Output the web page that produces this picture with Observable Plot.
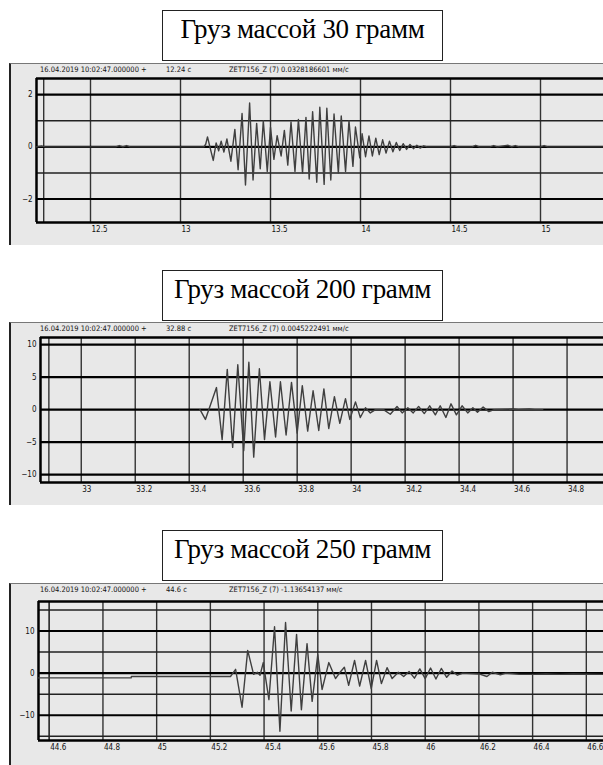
<!DOCTYPE html>
<html><head><meta charset="utf-8">
<script src="https://cdn.jsdelivr.net/npm/d3@7"></script>
<script src="https://cdn.jsdelivr.net/npm/@observablehq/plot@0.6"></script>
<style>
html,body{margin:0;padding:0;background:#fff;}
body{width:603px;height:765px;overflow:hidden;position:relative;}
.title{position:absolute;left:162px;width:281px;height:51px;border:1px solid #222;background:#fff;
  font-family:"Liberation Serif","Times New Roman",serif;font-size:27px;text-align:center;line-height:30px;padding-top:3px;box-sizing:border-box;z-index:3;color:#000;letter-spacing:-0.3px;}
.frame{position:absolute;left:9px;width:640px;background:#e8e8e8;border-left:2px solid #222;border-top:1px solid #777;box-sizing:border-box;}
.hdr{position:absolute;font-family:"DejaVu Sans Condensed","Liberation Sans Narrow",sans-serif;font-size:7.5px;color:#111;white-space:pre;z-index:2;}
.chart{position:absolute;left:0;z-index:1;}
</style>
</head><body>
<script>
// ---------- Panel 1: 30 g ----------
const title1 = "Груз массой 30 грамм";
const header1 = ["16.04.2019 10:02:47.000000 +", "12.24 с", "ZET7156_Z (7) 0.0328186601 мм/с"];
const cursor1 = 12.24;
const xDomain1 = [12.2, 15.35];
const yDomain1 = [-2.9, 2.62];
const xTicks1 = [12.5, 13, 13.5, 14, 14.5, 15];
const xTickLabels1 = ["12.5", "13", "13.5", "14", "14.5", "15"];
const yMajor1 = [-2, 0, 2];
const yMinor1 = [-1, 1];
const t1 = [12.2, 12.23, 12.25, 12.64, 12.66, 12.68, 12.70, 12.72, 13.13,
  13.140, 13.150, 13.165, 13.182, 13.198, 13.212, 13.226, 13.241, 13.258, 13.280,
  13.302, 13.320, 13.342, 13.361, 13.384, 13.403, 13.423, 13.443, 13.460, 13.482,
  13.500, 13.519, 13.537, 13.559, 13.577, 13.596, 13.614, 13.636, 13.655, 13.678,
  13.697, 13.715, 13.734, 13.757, 13.774, 13.798, 13.813, 13.835, 13.853, 13.877,
  13.893, 13.917, 13.936, 13.958, 13.972, 13.996, 14.009, 14.028, 14.047, 14.066,
  14.085, 14.104, 14.123, 14.142, 14.161, 14.180, 14.199, 14.218, 14.237, 14.256,
  14.275, 14.294, 14.313, 14.332, 14.351, 14.37, 14.5, 14.52, 14.54, 14.62, 14.64, 14.66,
  14.72, 14.74, 14.76, 14.82, 14.84, 14.86, 14.88, 15.0, 15.02, 15.04, 15.35];
const v1 = [0, 0.03, 0, 0, 0.05, 0, 0.05, 0, 0,
  0.1, 0.38, -0.05, -0.52, 0.15, -0.15, 0.22, -0.2, 0.3, -0.55,
  0.67, -0.88, 1.28, -1.46, 1.68, -1.27, 0.9, -0.84, 1.0, -0.94,
  0.75, -0.48, 0.43, -0.35, 0.63, -0.7, 0.95, -0.94, 1.05, -1.0,
  1.13, -1.23, 1.35, -1.36, 1.52, -1.44, 1.48, -1.27, 1.26, -1.0,
  1.18, -0.94, 1.0, -0.75, 0.76, -0.42, 0.5, -0.38, 0.42, -0.35,
  0.33, -0.3, 0.27, -0.24, 0.22, -0.19, 0.17, -0.14, 0.12, -0.1,
  0.09, -0.07, 0.06, -0.05, 0.04, 0, 0, 0.05, 0, 0, 0.06, 0,
  0, 0.05, 0, 0.06, 0, 0.05, 0, 0, 0.05, 0, 0];

// ---------- Panel 2: 200 g ----------
const title2 = "Груз массой 200 грамм";
const header2 = ["16.04.2019 10:02:47.000000 +", "32.88 с", "ZET7156_Z (7) 0.0045222491 мм/с"];
const cursor2 = 32.88;
const xDomain2 = [32.849, 34.935];
const yDomain2 = [-11.2, 11.1];
const xTicks2 = [33, 33.2, 33.4, 33.6, 33.8, 34, 34.2, 34.4, 34.6, 34.8];
const xTickLabels2 = ["33", "33.2", "33.4", "33.6", "33.8", "34", "34.2", "34.4", "34.6", "34.8"];
const yMajor2 = [-10, -5, 0, 5, 10];
const yMinor2 = [];
const t2 = [33.44, 33.460, 33.501, 33.522, 33.541, 33.561, 33.580, 33.602, 33.621, 33.639,
  33.660, 33.679, 33.699, 33.720, 33.738, 33.759, 33.779, 33.800, 33.819, 33.839,
  33.859, 33.880, 33.899, 33.917, 33.938, 33.958, 33.979, 33.995, 34.016, 34.034,
  34.053, 34.071, 34.09, 34.12, 34.145, 34.170, 34.189, 34.21, 34.230, 34.250,
  34.271, 34.291, 34.312, 34.330, 34.351, 34.370, 34.390, 34.411, 34.432, 34.451,
  34.468, 34.489, 34.51, 34.53, 34.6, 34.62, 34.66, 34.68, 34.71];
const v2 = [0, -1.5, 3.4, -4.6, 6.2, -5.8, 6.9, -6.3, 7.3, -7.3,
  6.3, -4.6, 4.3, -4.2, 4.3, -3.9, 4.2, -3.6, 3.7, -3.3,
  2.9, -3.2, 3.2, -2.9, 2.0, -2.1, 1.7, -1.5, 1.2, -1.2,
  0.3, -0.5, 0, 0, -0.7, 0.5, -0.5, 0.3, -0.5, 0.5,
  -0.6, 0.6, -0.8, 0.6, -1.2, 0.9, -0.8, 0.6, -0.5, 0.3,
  -0.4, 0.4, -0.3, 0, 0.1, 0, 0.1, 0, 0];

// ---------- Panel 3: 250 g ----------
const title3 = "Груз массой 250 грамм";
const header3 = ["16.04.2019 10:02:47.000000 +", "44.6 с", "ZET7156_Z (7) -1.13654137 мм/с"];
const cursor3 = 44.6;
const xDomain3 = [44.56, 46.664];
const yDomain3 = [-16, 17];
const xTicks3 = [44.6, 44.8, 45, 45.2, 45.4, 45.6, 45.8, 46, 46.2, 46.4, 46.6];
const xTickLabels3 = ["44.6", "44.8", "45", "45.2", "45.4", "45.6", "45.8", "46", "46.2", "46.4", "46.6"];
const yMajor3 = [-10, 0, 10];
const yMinor3 = [-15, -5, 5, 15];
const t3 = [44.56, 44.905, 44.906, 45.275,
  45.294, 45.318, 45.339, 45.361, 45.375, 45.385, 45.397, 45.418, 45.439, 45.459,
  45.480, 45.501, 45.521, 45.539, 45.560, 45.579, 45.600, 45.616, 45.641, 45.666,
  45.683, 45.699, 45.715, 45.737, 45.756, 45.778, 45.799, 45.819, 45.837, 45.858,
  45.877, 45.90, 45.92, 45.94, 45.96, 45.98, 46.00, 46.02, 46.04, 46.06,
  46.08, 46.10, 46.12, 46.14, 46.2, 46.23, 46.25, 46.28, 46.30, 46.35,
  46.40, 46.45, 46.5, 46.55, 46.664];
const v3 = [-1.14, -1.14, -0.8, -0.8,
  0.9, -8.1, 5.4, -0.3, 0.2, -0.5, 2.5, -6.3, 11, -13.8,
  12, -9, 9.2, -8.7, 7, -6.7, 4.4, -3.9, 2.5, -1.3,
  0.2, 1.4, -2.9, 3.0, -3.1, 3.0, -3.7, 3.0, -2.5, 1.3,
  -1.3, 0.2, -0.8, 0.4, -1.2, 1.0, -1.3, 1.2, -1.4, 1.1,
  -1.0, 0.5, -0.5, 0, -0.2, -0.8, 0.2, -0.4, 0, -0.3,
  -0.3, -0.2, -0.3, -0.2, -0.3];

const panels = [
  {title: title1, header: header1, cursor: cursor1, xd: xDomain1, yd: yDomain1, xt: xTicks1, xl: xTickLabels1, yM: yMajor1, ym: yMinor1, t: t1, v: v1,
   titleTop: 10, frameTop: 63, frameH: 182, plotTop: 78, plotBottom: 222, plotLeft: 36, hdrX: [40, 166, 229]},
  {title: title2, header: header2, cursor: cursor2, xd: xDomain2, yd: yDomain2, xt: xTicks2, xl: xTickLabels2, yM: yMajor2, ym: yMinor2, t: t2, v: v2,
   titleTop: 270, frameTop: 322, frameH: 183, plotTop: 337, plotBottom: 482, plotLeft: 40, hdrX: [40, 166, 229]},
  {title: title3, header: header3, cursor: cursor3, xd: xDomain3, yd: yDomain3, xt: xTicks3, xl: xTickLabels3, yM: yMajor3, ym: yMinor3, t: t3, v: v3,
   titleTop: 530, frameTop: 583, frameH: 190, plotTop: 601, plotBottom: 740, plotLeft: 38, hdrX: [40, 166, 229]}
];

const tickFont = '"DejaVu Sans Condensed","Liberation Sans Narrow",sans-serif';

for (const p of panels) {
  const frame = document.createElement("div");
  frame.className = "frame";
  frame.style.top = p.frameTop + "px";
  frame.style.height = p.frameH + "px";
  document.body.appendChild(frame);

  p.header.forEach((h, i) => {
    const d = document.createElement("div");
    d.className = "hdr";
    d.textContent = h;
    d.style.left = p.hdrX[i] + "px";
    d.style.top = (p.frameTop + 2) + "px";
    document.body.appendChild(d);
  });

  const data = p.t.map((t, i) => ({t, v: p.v[i]}));
  const H = p.frameH;
  const chart = Plot.plot({
    width: 603,
    height: H,
    marginLeft: p.plotLeft,
    marginRight: 0,
    marginTop: p.plotTop - p.frameTop,
    marginBottom: H - (p.plotBottom - p.frameTop),
    style: {background: "transparent", overflow: "visible", fontFamily: tickFont, fontSize: "8px", color: "#111"},
    x: {domain: p.xd, axis: null},
    y: {domain: p.yd, axis: null},
    marks: [
      Plot.ruleX(p.xt, {stroke: "#333", strokeWidth: 1.4}),
      Plot.ruleX([p.cursor], {stroke: "#333", strokeWidth: 1.4}),
      Plot.ruleY(p.ym, {stroke: "#222", strokeWidth: 1.5}),
      Plot.ruleY(p.yM, {stroke: "#000", strokeWidth: 2.2}),
      Plot.ruleY([p.yd[0], p.yd[1]], {stroke: "#000", strokeWidth: 2.5}),
      Plot.ruleX([p.xd[0]], {stroke: "#000", strokeWidth: 2.5}),
      Plot.line(data, {x: "t", y: "v", stroke: "#3f3f3f", strokeWidth: 1.4, curve: "linear"}),
      Plot.axisX(p.xt, {label: null, tickSize: 0, tickPadding: 0, tickFormat: (d, i) => p.xl[i], textAnchor: "start", dx: 1, dy: 4, fontSize: 8, fill: "#111"}),
      Plot.axisY([...p.yM].sort((a, b) => a - b), {label: null, tickSize: 0, tickPadding: 0, textAnchor: "end", dx: -4, fontSize: 8, fill: "#111"})
    ]
  });
  chart.classList.add("chart");
  chart.style.top = p.frameTop + "px";
  chart.style.position = "absolute";
  document.body.appendChild(chart);

  const tdiv = document.createElement("div");
  tdiv.className = "title";
  tdiv.style.top = p.titleTop + "px";
  tdiv.textContent = p.title;
  document.body.appendChild(tdiv);
}
</script>
</body></html>
